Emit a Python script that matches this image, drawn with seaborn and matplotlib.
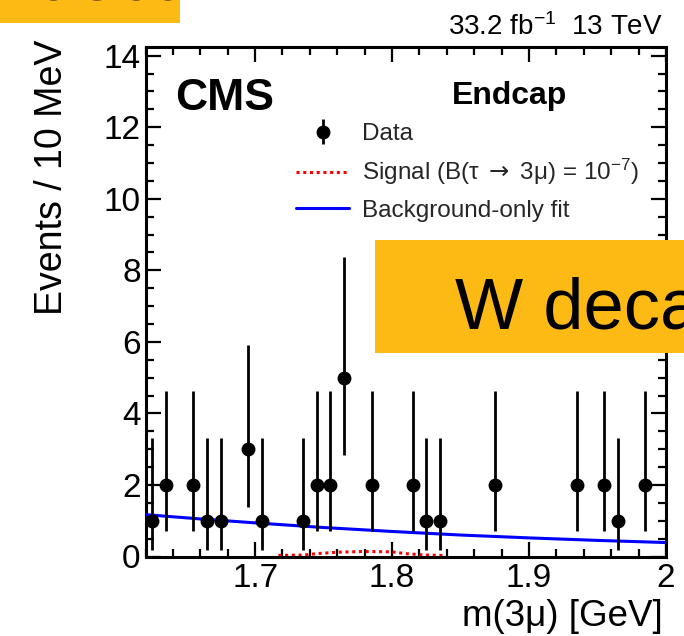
import matplotlib
matplotlib.use("Agg")
import matplotlib.pyplot as plt
import seaborn as sns
import pandas as pd
from matplotlib.lines import Line2D
from matplotlib.patches import Rectangle
from matplotlib.ticker import MultipleLocator

# Observed events per 10 MeV bin (bin centres in GeV)
mass = [1.625, 1.635, 1.655, 1.665, 1.675, 1.695, 1.705, 1.735, 1.745, 1.755,
        1.765, 1.785, 1.815, 1.825, 1.835, 1.875, 1.935, 1.955, 1.965, 1.985]
events = [1, 2, 2, 1, 1, 3, 1, 1, 2, 2, 5, 2, 2, 1, 1, 2, 2, 2, 1, 2]
# 68% Poisson interval edges for each bin
err_low = [0.17, 0.71, 0.71, 0.17, 0.17, 1.37, 0.17, 0.17, 0.71, 0.71,
           2.84, 0.71, 0.71, 0.17, 0.17, 0.71, 0.71, 0.71, 0.17, 0.71]
err_high = [3.30, 4.64, 4.64, 3.30, 3.30, 5.92, 3.30, 3.30, 4.64, 4.64,
            8.38, 4.64, 4.64, 3.30, 3.30, 4.64, 4.64, 4.64, 3.30, 4.64]

# Background-only fit curve
bkg_mass = [1.62, 1.66, 1.70, 1.75, 1.80, 1.85, 1.90, 1.95, 2.00]
bkg_fit = [1.17, 1.05, 0.94, 0.81, 0.70, 0.60, 0.52, 0.45, 0.39]

# Signal shape for B(tau -> 3mu) = 1e-7
sig_mass = [1.717, 1.735, 1.745, 1.760, 1.780, 1.800, 1.810, 1.825, 1.837]
sig_curve = [0.03, 0.04, 0.08, 0.12, 0.14, 0.13, 0.08, 0.04, 0.03]

data = pd.DataFrame({"mass": mass, "events": events})
bkg = pd.DataFrame({"mass": bkg_mass, "fit": bkg_fit})
sig = pd.DataFrame({"mass": sig_mass, "signal": sig_curve})

sns.set_theme(style="ticks")
FONT = ["Liberation Sans", "DejaVu Sans"]
plt.rcParams["font.family"] = FONT
plt.rcParams["mathtext.fontset"] = "custom"
plt.rcParams["mathtext.rm"] = "Liberation Sans"
plt.rcParams["mathtext.it"] = "Liberation Sans:italic"
plt.rcParams["mathtext.bf"] = "Liberation Sans:bold"
plt.rcParams["mathtext.sf"] = "DejaVu Sans"

W, H = 684, 636
fig = plt.figure(figsize=(W / 100, H / 100), dpi=100)
x0, x1, ytop, ybot = 145.5, 666.0, 46.7, 556.5
ax = fig.add_axes([x0 / W, 1 - ybot / H, (x1 - x0) / W, (ybot - ytop) / H])


def ax_frac(px, py):
    """Pixel position on the canvas -> axes fraction."""
    return (px - x0) / (x1 - x0), (ybot - py) / (ybot - ytop)


# Curves
sns.lineplot(data=sig, x="mass", y="signal", ax=ax, color="#ff0000",
             linestyle=(0, (1, 1.2)), linewidth=2.2, zorder=2, legend=False)
sns.lineplot(data=bkg, x="mass", y="fit", ax=ax, color="#0000ff",
             linewidth=2.2, zorder=3, legend=False)

# Data points with Poisson error bars
yerr = [[e - lo for e, lo in zip(events, err_low)],
        [hi - e for e, hi in zip(events, err_high)]]
ax.errorbar(mass, events, yerr=yerr, fmt="none", ecolor="black",
            elinewidth=2.0, capsize=0, zorder=4)
sns.scatterplot(data=data, x="mass", y="events", ax=ax, color="black",
                s=100, edgecolor="black", linewidth=0, zorder=5, legend=False)

ax.set_xlim(1.62, 2.0)
ax.set_ylim(0, 14.25)
ax.xaxis.set_minor_locator(MultipleLocator(0.02))
ax.yaxis.set_major_locator(MultipleLocator(2))
ax.yaxis.set_minor_locator(MultipleLocator(0.5))
ax.set_xticks([1.7, 1.8, 1.9, 2.0])
ax.set_xticklabels(["1.7", "1.8", "1.9", "2"])
ax.set_xlabel("")
ax.set_ylabel("")
ax.tick_params(which="both", direction="in", top=True, right=True,
               colors="black", labelsize=24)
ax.tick_params(which="major", length=11, width=1.6)
ax.tick_params(which="minor", length=5.5, width=1.6)
ax.tick_params(axis="y", which="major", pad=3.5)
ax.tick_params(axis="x", which="major", pad=5)
for s in ax.spines.values():
    s.set_linewidth(2.2)
    s.set_color("black")

# Axis titles
fig.text(52 / W, 1 - 40 / H, "Events / 10 MeV", rotation=90, ha="center",
         va="top", fontsize=27, color="black")
fig.text(663 / W, 1 - 599 / H, "m(3μ) [GeV]", ha="right", va="top",
         fontsize=26.5, color="black")

# Labels inside the frame
ax.text(*ax_frac(175, 110), "CMS", transform=ax.transAxes, ha="left",
        va="baseline", fontsize=32, fontweight="bold", color="black")
ax.text(*ax_frac(452, 104), "Endcap", transform=ax.transAxes, ha="left",
        va="baseline", fontsize=23, fontweight="bold", color="black")
fig.text(663 / W, 1 - 35 / H, r"33.2 fb$\mathregular{^{-1}}$  13 TeV",
         ha="right", va="baseline", fontsize=20, color="black")

# Legend
h_data = ax.errorbar([], [], yerr=[], fmt="o", color="black", markersize=9,
                     elinewidth=2.0, capsize=4, capthick=2.0)
h_sig = Line2D([], [], color="#ff0000", linestyle=(0, (1, 1.2)), linewidth=2.2)
h_bkg = Line2D([], [], color="#0000ff", linewidth=2.2)
ax.legend([h_data, h_sig, h_bkg],
          ["Data",
           r"Signal (B(τ $\mathsf{\rightarrow}$ 3μ) = $\mathregular{10^{-7}}$)",
           "Background-only fit"],
          loc="upper left", bbox_to_anchor=ax_frac(296, 123),
          frameon=False, fontsize=17.5, handlelength=2.2, handletextpad=0.5,
          borderpad=0, borderaxespad=0, labelspacing=0.5)

# Highlight boxes
orange = "#fdba15"
fig.add_artist(Rectangle((0, 1 - 23 / H), 180 / W, 23 / H,
                         transform=fig.transFigure, facecolor=orange,
                         edgecolor="none", zorder=10))
fig.add_artist(Rectangle((375 / W, 1 - 353 / H), (W - 375) / W, 113 / H,
                         transform=fig.transFigure, facecolor=orange,
                         edgecolor="none", zorder=10))
fig.text(455 / W, 1 - 329 / H, "W decays", ha="left", va="baseline",
         fontsize=52, color="black", zorder=11)
fig.text(-52 / W, 1.0, "W deca", ha="left", va="baseline",
         fontsize=52, color="black", zorder=11)

fig.savefig("out.png", dpi=100)
